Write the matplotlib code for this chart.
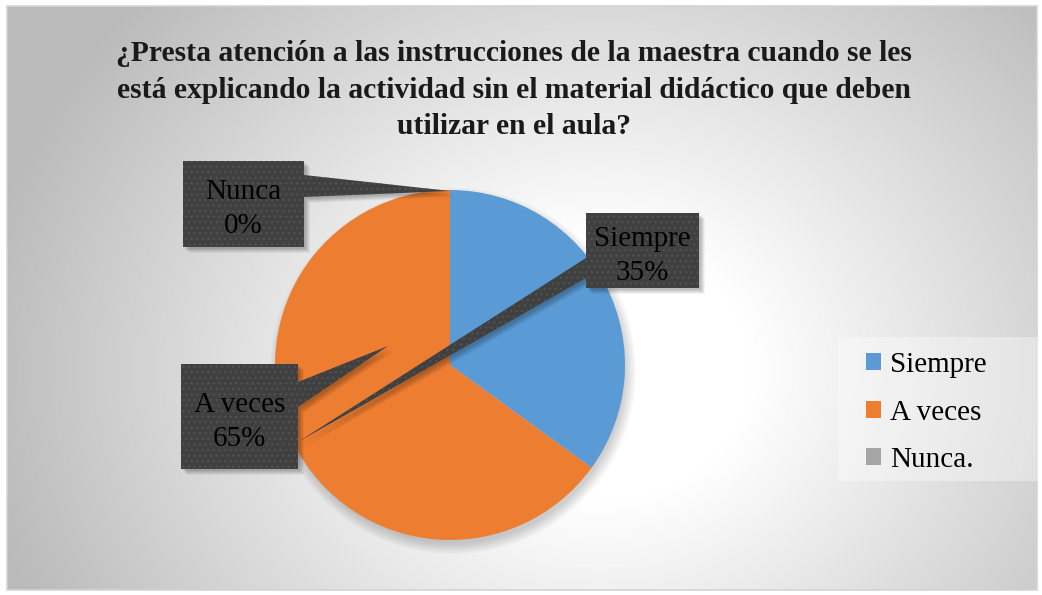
import numpy as np
import matplotlib.pyplot as plt
from matplotlib.patches import Polygon, Circle, Rectangle, Patch

# data
categories = ['Siempre', 'A veces', 'Nunca']
legend_labels = ['Siempre', 'A veces', 'Nunca.']
values = [35, 65, 0]
colors = ['#5B9BD5', '#ED7D31', '#A5A5A5']
title = ('¿Presta atención a las instrucciones de la maestra cuando se les\n'
         'está explicando la actividad sin el material didáctico que deben\n'
         'utilizar en el aula?')

plt.rcParams['font.family'] = ['Liberation Serif', 'DejaVu Serif']
plt.rcParams['hatch.linewidth'] = 0.8

W, H = 1042, 595
fig = plt.figure(figsize=(W / 100, H / 100), dpi=100)
fig.patch.set_facecolor('white')

# background with radial gradient, pixel coordinates
bg = fig.add_axes([0, 0, 1, 1])
bg.set_xlim(0, W)
bg.set_ylim(H, 0)
bg.axis('off')
x0, x1, y0, y1 = 7, 1037, 6, 590
yy, xx = np.mgrid[y0:y1, x0:x1]
r = np.hypot(xx - 600, (yy - 370) * 1.15)
t = np.clip((r - 150) / 480, 0, 1)
g = 1 - 0.27 * t
bg.imshow(np.dstack([g, g, g]), extent=(x0, x1, y1, y0), aspect='auto',
          interpolation='bilinear', zorder=0)
bg.add_patch(Rectangle((x0, y0), x1 - x0, y1 - y0, fill=False,
                       edgecolor='#d4d4d4', lw=1.2, zorder=1))

# legend box
bg.add_patch(Rectangle((838, 337), 200, 144, facecolor='white', alpha=0.35,
                       lw=0, zorder=1))

# pie geometry in pixels
cx, cy, rad = 450, 365, 175

# soft shadow under the pie
for k in range(8):
    bg.add_patch(Circle((cx + 3, cy + 6), rad + 8 - k * 1.5, color='black',
                        alpha=0.025, lw=0, zorder=2))

ax = fig.add_axes([(cx - rad) / W, (H - cy - rad) / H, 2 * rad / W, 2 * rad / H])
wedges, _ = ax.pie(values, colors=colors, startangle=90, counterclock=False,
                   radius=1, wedgeprops=dict(linewidth=0))
ax.set_xlim(-1, 1)
ax.set_ylim(-1, 1)

# callouts (overlay in pixel coords)
ov = fig.add_axes([0, 0, 1, 1])
ov.set_xlim(0, W)
ov.set_ylim(H, 0)
ov.axis('off')
ov.patch.set_alpha(0)


def callout(box, tip, side, attach, text):
    bx0, by0, bx1, by1 = box
    if side == 'right':
        pts = [(bx0, by0), (bx1, by0), (bx1, attach[0]), tip, (bx1, attach[1]),
               (bx1, by1), (bx0, by1)]
    else:
        pts = [(bx0, by0), (bx1, by0), (bx1, by1), (bx0, by1), (bx0, attach[1]),
               tip, (bx0, attach[0])]
    for k in range(4):
        d = 2 + k * 1.2
        ov.add_patch(Polygon([(px + d, py + d) for px, py in pts], closed=True,
                             facecolor='black', alpha=0.07, lw=0, zorder=3))
    ov.add_patch(Polygon(pts, closed=True, facecolor='#404040', lw=0, zorder=4))
    ov.add_patch(Polygon(pts, closed=True, fill=False, hatch='...',
                         edgecolor='#535353', lw=0, zorder=5))
    ov.text((bx0 + bx1) / 2, (by0 + by1) / 2 + 5, text, ha='center', va='center',
            fontsize=21, color='black', linespacing=1.4, zorder=6)


callout((183, 161, 304, 247), (cx, cy - rad + 1), 'right', (175, 197),
        f'{categories[2]}\n{values[2]}%')
callout((586, 213, 699, 288), (298, 442), 'left', (258, 278),
        f'{categories[0]}\n{values[0]}%')
callout((181, 364, 298, 469), (388, 346), 'right', (382, 407),
        f'{categories[1]}\n{values[1]}%')

# title
fig.text(514 / W, 1 - 90 / H, title, ha='center', va='center', fontsize=21.3,
         fontweight='bold', color='#1a1a1a', linespacing=1.45)

# legend
handles = [Patch(facecolor=c, edgecolor='none') for c in colors]
leg = fig.legend(handles, legend_labels, loc='upper left',
                 bbox_to_anchor=(866 / W, 1 - 352 / H), borderaxespad=0,
                 fontsize=21, frameon=False, handlelength=0.52, handleheight=0.52,
                 handletextpad=0.3, labelspacing=0.74, borderpad=0)

fig.savefig('out.png', dpi=100)
